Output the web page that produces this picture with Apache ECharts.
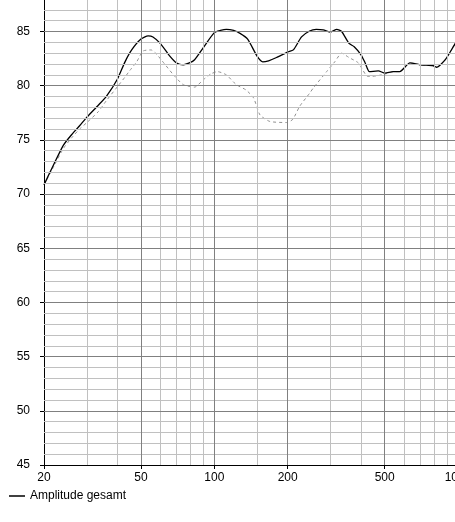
<!DOCTYPE html>
<html>
<head>
<meta charset="utf-8">
<script src="https://cdn.jsdelivr.net/npm/echarts@6/dist/echarts.min.js"></script>
<style>html,body{margin:0;padding:0;background:#fff;}#c{width:455px;height:522px;}</style>
</head>
<body>
<div id="c"></div>
<script>
// Frequency (Hz) and level (dB) for the solid curve "Amplitude gesamt"
const solidFreq = [20,22,24,26,28,30,33.4,36,40,43,45.8,50,53.5,56,60,65.8,70,74.5,79,83,90,100,106,112,120,127,137,150,158,167,180,200,211,228,246,262,280,300,318,333,357,375,400,416,433,471,501,542,577,635,698,792,816,887,975,1000];
const solidDb   = [70.85,72.8,74.5,75.5,76.3,77.1,78.2,79.0,80.6,82.2,83.3,84.3,84.6,84.5,83.9,82.7,82.1,81.93,82.1,82.4,83.5,84.9,85.1,85.2,85.1,84.85,84.3,82.7,82.2,82.3,82.6,83.1,83.3,84.5,85.05,85.2,85.15,84.95,85.2,85.0,83.9,83.6,82.85,82.1,81.3,81.37,81.16,81.3,81.3,82.1,81.93,81.84,81.7,82.4,83.9,84.2];
// Dashed comparison curve
const dashFreq = [20,22,24,26,28,30,33.4,36,40,43,45,48,51,55,58,61,68,74.5,83,90,97,103,112,123,135,145,154,169,198,210,224,246,255,289,312,333,357,390,427,462,506,542,577,635,698,792,816,887,975,1000];
const dashDb   = [70.85,72.6,74.2,75.2,76.0,76.6,77.6,78.6,79.9,80.8,81.4,82.2,83.2,83.3,82.9,82.3,81.0,80.1,79.87,80.54,81.1,81.3,81.0,80.1,79.6,78.86,77.3,76.7,76.6,76.9,78.1,79.3,79.8,81.3,82.2,83.0,82.6,82.1,80.85,80.9,81.1,81.3,81.3,82.1,81.93,81.84,81.7,82.4,83.9,84.2];
// Axis ticks / grid values
const xLabelTicks = [20,50,100,200,500,1000];
const xMajorGrid = [50,100,200,500];
const xMinorGrid = [30,40,60,70,80,90,150,300,400,600,700,800,900];
const yLabelTicks = [45,50,55,60,65,70,75,80,85];
const yMajorGrid = [50,55,60,65,70,75,80,85];
const yMinorGrid = [46,47,48,49,51,52,53,54,56,57,58,59,61,62,63,64,66,67,68,69,71,72,73,74,76,77,78,79,81,82,83,84,86,87];

const FONT = '"Liberation Sans", Arial, sans-serif';
const MINOR = '#c0c0c0', MAJOR = '#808080';

const gridLines = [];
yMinorGrid.forEach(v => gridLines.push({yAxis: v, lineStyle: {color: MINOR}}));
xMinorGrid.forEach(v => gridLines.push({xAxis: v, lineStyle: {color: MINOR}}));
yMajorGrid.forEach(v => gridLines.push({yAxis: v, lineStyle: {color: MAJOR}}));
xMajorGrid.forEach(v => gridLines.push({xAxis: v, lineStyle: {color: MAJOR}}));

const chart = echarts.init(document.getElementById('c'), null, {renderer: 'canvas'});
chart.setOption({
  animation: false,
  backgroundColor: '#fff',
  grid: {left: 44, top: -1, width: 414, height: 466, containLabel: false, outerBoundsMode: 'none'},
  legend: {
    left: 4, top: 485, itemWidth: 16, itemHeight: 1.5, itemGap: 10,
    icon: 'rect',
    itemStyle: {color: '#000', borderWidth: 0},
    data: [{name: 'Amplitude gesamt', icon: 'rect', itemStyle: {color: '#000'}}],
    textStyle: {fontFamily: FONT, fontSize: 12, color: '#000'},
    selectedMode: false
  },
  xAxis: {
    type: 'log', logBase: 10, min: 20, max: 1000,
    axisLine: {show: true, onZero: false, lineStyle: {color: '#000', width: 1}},
    axisTick: {show: true, length: 4, customValues: xLabelTicks, lineStyle: {color: '#000'}},
    axisLabel: {show: true, customValues: xLabelTicks, margin: 7, color: '#000', fontFamily: FONT, fontSize: 12, showMinLabel: true, showMaxLabel: true, hideOverlap: false,
      formatter: v => String(Math.round(v))},
    splitLine: {show: false}, minorTick: {show: false}, minorSplitLine: {show: false}
  },
  yAxis: {
    type: 'value', min: 45, max: 88,
    axisLine: {show: true, onZero: false, lineStyle: {color: '#000', width: 1}},
    axisTick: {show: true, length: 4, customValues: yLabelTicks, lineStyle: {color: '#000'}},
    axisLabel: {show: true, customValues: yLabelTicks, margin: 14, color: '#000', fontFamily: FONT, fontSize: 12},
    splitLine: {show: false}
  },
  series: [
    {
      name: 'grid', type: 'line', data: [[20,45]], symbol: 'none', silent: true,
      lineStyle: {width: 0, opacity: 0}, z: 1,
      markLine: {silent: true, symbol: ['none','none'], label: {show: false},
        lineStyle: {type: 'solid', width: 1}, emphasis: {disabled: true}, data: gridLines, animation: false}
    },
    {
      name: 'Vergleich', type: 'line', symbol: 'none', smooth: 0.2, z: 3,
      data: dashFreq.map((f, i) => [f, dashDb[i]]),
      lineStyle: {color: '#909090', width: 1, type: [3, 3]}
    },
    {
      name: 'Amplitude gesamt', type: 'line', symbol: 'none', smooth: 0.2, z: 4,
      data: solidFreq.map((f, i) => [f, solidDb[i]]),
      lineStyle: {color: '#000', width: 1.3},
      itemStyle: {color: '#000'}
    }
  ]
});
</script>
</body>
</html>
